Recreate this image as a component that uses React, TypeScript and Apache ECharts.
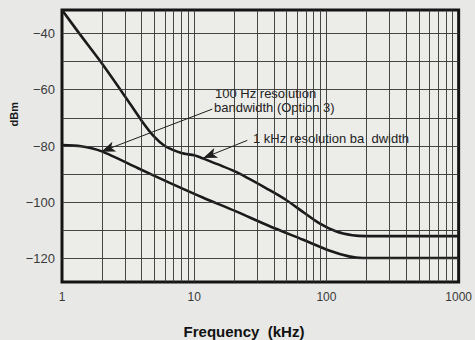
import React, { useEffect, useRef } from "react";
import * as echarts from "echarts";

// Frequency (kHz) / level (dBm)
const wideFreq = [1, 1.35, 2, 3, 4, 5, 6, 8, 10, 11.6, 20.7, 36.9, 49.3, 65.9, 88, 117.7, 157, 200, 1000];
const wideLevel = [-31.7, -40, -50.6, -62.4, -71, -76.8, -80, -82.5, -83.3, -84.4, -89.2, -95.6, -99.1, -103.3, -107.4, -110.3, -111.7, -112, -112];

const narrowFreq = [1, 1.39, 2, 3.73, 6.47, 11.6, 20.7, 36.9, 65.9, 104.8, 148, 187, 1000];
const narrowLevel = [-79.7, -80.1, -81.9, -87.8, -93, -98.3, -103.2, -108.4, -113.2, -117.1, -119.2, -119.8, -119.8];

const xTickLabels = [1, 10, 100, 1000];
const yTickLabels = [-120, -100, -80, -60, -40];
const minorFreqs = [2, 3, 4, 5, 6, 7, 8, 9, 10, 20, 30, 40, 50, 60, 70, 80, 90, 100, 200, 300, 400, 500, 600, 700, 800, 900];
const gridLevels = [-120, -110, -100, -90, -80, -70, -60, -50, -40];

const annotNarrowTail = [13.7, -66.9];
const annotNarrowTip = [1.98, -82.0];
const annotWideTail = [25.2, -78.0];
const annotWideTip = [11.7, -84.3];

export default function App() {
  const ref = useRef<HTMLDivElement>(null);
  useEffect(() => {
    if (!ref.current) return;
    const chart = echarts.init(ref.current, undefined, { renderer: "svg" });
    const font = "'Liberation Sans', Arial, Helvetica, sans-serif";
    const gridLineStyle = { color: "#333333", width: 1, type: "solid" as const, opacity: 0.9 };
    chart.setOption({
      animation: false,
      backgroundColor: "#e8e8e6",
      textStyle: { fontFamily: font },
      grid: {
        left: 62,
        right: 15,
        top: 10,
        bottom: 58,
        show: true,
        backgroundColor: "#ecece9",
        borderColor: "#141414",
        borderWidth: 3,
      },
      xAxis: {
        type: "log",
        logBase: 10,
        min: 1,
        max: 1000,
        axisLine: { show: false },
        axisTick: { show: false },
        splitLine: { show: false },
        axisLabel: {
          color: "#3a3a3a",
          fontSize: 12,
          fontFamily: font,
          margin: 9,
          customValues: xTickLabels,
          formatter: (v: number) => String(Math.round(v)),
        },
      },
      yAxis: {
        type: "value",
        min: -128.3,
        max: -31.7,
        axisLine: { show: false },
        axisTick: { show: false, customValues: yTickLabels },
        splitLine: { show: false },
        axisLabel: {
          color: "#3a3a3a",
          fontSize: 13,
          fontFamily: font,
          margin: 7,
          customValues: yTickLabels,
          formatter: (v: number) => String(v).replace("-", "\u2212"),
        },
      },
      graphic: [
        {
          type: "text",
          left: 8,
          top: 102,
          rotation: Math.PI / 2,
          style: { text: "dBm", font: `bold 11px ${font}`, fill: "#1a1a1a" },
        },
        {
          type: "text",
          x: 244,
          y: 331,
          style: {
            text: "Frequency  (kHz)",
            font: `bold 15px ${font}`,
            fill: "#111",
            align: "center",
            verticalAlign: "middle",
          },
        },
        {
          type: "text",
          x: 215,
          y: 93,
          style: {
            text: "100 Hz resolution",
            font: `13px ${font}`,
            fill: "#222",
            verticalAlign: "middle",
            backgroundColor: "#ecece9",
          },
        },
        {
          type: "text",
          x: 214,
          y: 107,
          style: {
            text: "bandwidth (Option 3)",
            font: `13px ${font}`,
            fill: "#222",
            verticalAlign: "middle",
            backgroundColor: "#ecece9",
          },
        },
        {
          type: "text",
          x: 253,
          y: 138,
          style: {
            text: "1 kHz resolution ba  dwidth",
            font: `13px ${font}`,
            fill: "#222",
            verticalAlign: "middle",
            backgroundColor: "#ecece9",
          },
        },
      ],
      series: [
        {
          type: "line",
          data: [],
          z: 1,
          silent: true,
          markLine: {
            silent: true,
            symbol: ["none", "none"],
            label: { show: false },
            lineStyle: gridLineStyle,
            emphasis: { disabled: true },
            data: [
              ...minorFreqs.map((f) => ({ xAxis: f })),
              ...gridLevels.map((v) => ({ yAxis: v })),
            ],
          },
        },
        {
          type: "line",
          name: "1 kHz",
          data: wideFreq.map((f, i) => [f, wideLevel[i]]),
          smooth: 0.25,
          showSymbol: false,
          symbol: "none",
          z: 3,
          lineStyle: { color: "#1a1a1a", width: 2.6 },
        },
        {
          type: "line",
          name: "100 Hz",
          data: narrowFreq.map((f, i) => [f, narrowLevel[i]]),
          smooth: 0.25,
          showSymbol: false,
          symbol: "none",
          z: 3,
          lineStyle: { color: "#1a1a1a", width: 2.6 },
        },
        {
          type: "line",
          data: [],
          z: 4,
          silent: true,
          markLine: {
            silent: true,
            symbol: ["none", "arrow"],
            symbolSize: [8, 14],
            label: { show: false },
            lineStyle: { color: "#1e1e1e", width: 1, type: "solid" },
            emphasis: { disabled: true },
            data: [
              [{ coord: annotNarrowTail }, { coord: annotNarrowTip }],
              [{ coord: annotWideTail }, { coord: annotWideTip }],
            ],
          },
        },
      ],
    });
    return () => chart.dispose();
  }, []);
  return (
    <div
      ref={ref}
      style={{ position: "fixed", left: 0, top: 0, width: 475, height: 340 }}
    />
  );
}
